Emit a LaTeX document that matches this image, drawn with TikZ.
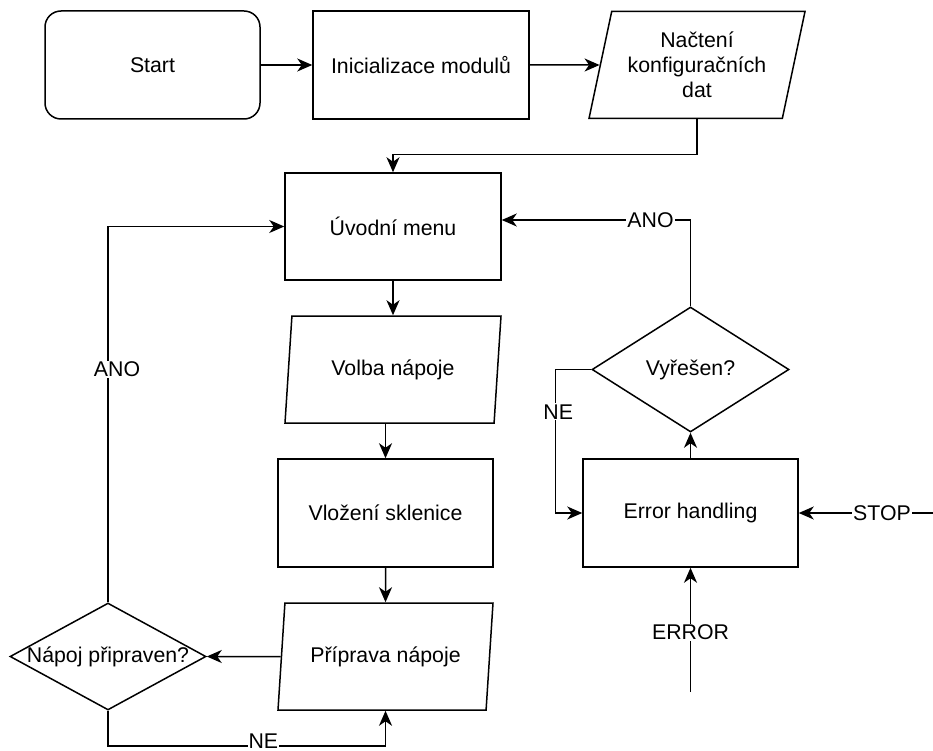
\documentclass[tikz,border=0pt]{standalone}
\usepackage{fontspec}
\setmainfont{Liberation Sans}
\usetikzlibrary{shapes.geometric,arrows.meta,calc}
\begin{document}
\begin{tikzpicture}[x=1pt,y=-1pt,
  every node/.style={font=\fontsize{21.3}{25}\selectfont},
  box/.style={draw, line width=1.5pt, inner sep=0pt, minimum width=215pt, minimum height=108pt, align=center},
  io/.style={draw, line width=1.5pt, inner sep=0pt, shape=trapezium, trapezium left angle=71, trapezium right angle=109, trapezium stretches body=true, minimum width=216pt, minimum height=107pt, align=center},
  dec/.style={draw, line width=1.5pt, inner sep=0pt, shape=diamond},
  conn/.style={line width=1.5pt},
  arr/.style={conn, -{Stealth[length=15pt,width=13pt,inset=4.5pt]}},
  lbl/.style={fill=white, inner sep=1pt}
]
\useasboundingbox (0,0) rectangle (933,751);

\node[box, rounded corners=16pt] (start) at (152.5,65) {Start};
\node[box, minimum width=216pt] (init) at (421,65) {Inicializace modulů};
\node[io] (nacteni) at (697,65) {Načtení\\konfiguračních\\dat};
\node[box, minimum width=216pt, minimum height=107pt] (uvodni) at (393,226.5) {Úvodní menu};
\node[io] (volba) at (393,369.5) {Volba nápoje};
\node[box] (vlozeni) at (385.5,513) {Vložení sklenice};
\node[io, minimum width=215pt] (priprava) at (385.5,656.5) {Příprava nápoje};
\node[dec, minimum width=196pt, minimum height=107pt] (napoj) at (108,656.5) {\makebox[0pt]{Nápoj připraven?}};
\node[box] (error) at (690.5,513) {Error handling};
\node[dec, minimum width=197pt, minimum height=125pt] (vyresen) at (690.5,369.5) {\makebox[0pt]{Vyřešen?}};

\coordinate (stopin) at (933,513);
\coordinate (errin) at (690.5,692);
\coordinate (anoR) at ($(uvodni.east)+(0,-6.5)$);

\draw[arr] (start) -- (init);
\draw[arr] (init) -- (nacteni.west);
\draw[arr] (nacteni.south) -- ++(0,35) -| (uvodni.north);
\draw[arr] (uvodni) -- (volba);
\draw[arr] (volba.south -| vlozeni.north) -- (vlozeni.north);
\draw[arr] (vlozeni) -- (priprava);
\draw[arr] (priprava.west) -- (napoj.east);
\draw[arr] (napoj.north) |- node[lbl, pos=0.31, xshift=9pt] {ANO} (uvodni.west);
\draw[arr] (napoj.south) -- ++(0,35) -| node[lbl, pos=0.28, yshift=5pt, inner sep=0.5pt] {NE} (priprava.south);
\draw[arr] (error.north) -- (vyresen.south);
\draw[arr] (vyresen.north) |- node[lbl, pos=0.606] {ANO} (anoR);
\draw[arr] (vyresen.west) -- ++(-36,0) |- node[lbl, pos=0.147, xshift=3pt] {NE} (error.west);
\draw[arr] (stopin) -- node[lbl, pos=0.38] {STOP} (error.east);
\draw[arr] (errin) -- node[lbl, pos=0.48] {ERROR} (error.south);
\end{tikzpicture}
\end{document}
